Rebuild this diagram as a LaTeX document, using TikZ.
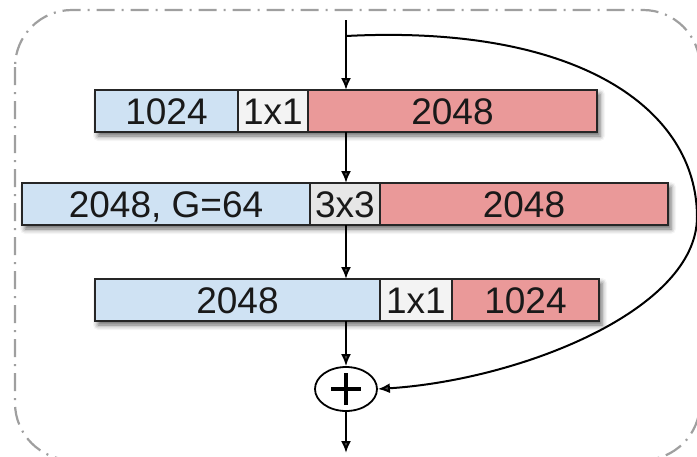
\documentclass[tikz,border=0pt]{standalone}
\usepackage{fontspec}
\setmainfont{Liberation Sans}
\usetikzlibrary{arrows.meta,shadows.blur,shapes.geometric}
\definecolor{chanblue}{HTML}{CFE2F3}
\definecolor{chanred}{HTML}{EA9999}
\definecolor{kernwhite}{HTML}{F3F3F3}
\definecolor{kerngray}{HTML}{E6E6E6}
\definecolor{edge}{HTML}{262626}
\begin{document}
\begin{tikzpicture}[x=1pt,y=-1pt,
  seg/.style={draw=edge, line width=2.4pt, inner sep=0pt, outer sep=0pt,
    minimum height=42pt, text height=27pt, text depth=0pt,
    font=\fontsize{37}{40}\selectfont, text=black!90},
  rowshadow/.style={fill=white, blur shadow={shadow xshift=3pt, shadow yshift=-4pt,
    shadow blur radius=5pt, shadow opacity=60}},
  flow/.style={line width=2pt, -{Latex[length=12pt,width=10pt]}},
  frame/.style={draw=gray!75, line width=2.2pt,
    dash pattern=on 18pt off 7pt on 2pt off 7pt, rounded corners=57pt}]
\useasboundingbox (0,0) rectangle (697,456);
\clip (0,0) rectangle (697,456);

% outer block boundary
\draw[frame] (15,10) rectangle (700,460);

% row shadows
\fill[rowshadow] (95,90) rectangle (597,132);
\fill[rowshadow] (22,183) rectangle (668,225);
\fill[rowshadow] (95,279) rectangle (599,321);

% 1x1 conv: 1024 -> 2048
\node[seg, fill=chanblue,  minimum width=143pt] (r1a) at (166.5,111) {1024};
\node[seg, fill=kernwhite, minimum width=70pt]  (r1b) at (273,111)   {1x1};
\node[seg, fill=chanred,   minimum width=289pt] (r1c) at (452.5,111) {2048};

% grouped 3x3 conv
\node[seg, fill=chanblue,  minimum width=288pt] (r2a) at (166,204) {2048, G=64};
\node[seg, fill=kerngray,  minimum width=70pt]  (r2b) at (345,204) {3x3};
\node[seg, fill=chanred,   minimum width=288pt] (r2c) at (524,204) {2048};

% 1x1 conv: 2048 -> 1024
\node[seg, fill=chanblue,  minimum width=285pt] (r3a) at (237.5,300) {2048};
\node[seg, fill=kernwhite, minimum width=72pt]  (r3b) at (416,300)   {1x1};
\node[seg, fill=chanred,   minimum width=147pt] (r3c) at (525.5,300) {1024};

% addition
\node[ellipse, draw=black, line width=1.8pt, fill=white, inner sep=0pt,
      minimum width=62pt, minimum height=44pt] (sum) at (346,389) {};
\draw[line width=3.8pt] ([xshift=-15pt]sum.center) -- ([xshift=15pt]sum.center);
\draw[line width=3.8pt] ([yshift=-16pt]sum.center) -- ([yshift=16pt]sum.center);

\coordinate (in) at (346,20);
\coordinate (split) at (346,36);
\coordinate (out) at (346,453);

% main path
\draw[flow] (in) -- (in |- r1c.north);
\draw[flow] (in |- r1c.south) -- (in |- r2b.north);
\draw[flow] (in |- r2b.south) -- (in |- r3a.north);
\draw[flow] (in |- r3a.south) -- (sum.north);
\draw[flow] (sum.south) -- (out);

% identity shortcut
\draw[flow] (split) .. controls (580,24) and (697,110) .. (697,217)
  .. controls (697,310) and (520,380) .. (sum.east);
\end{tikzpicture}
\end{document}
